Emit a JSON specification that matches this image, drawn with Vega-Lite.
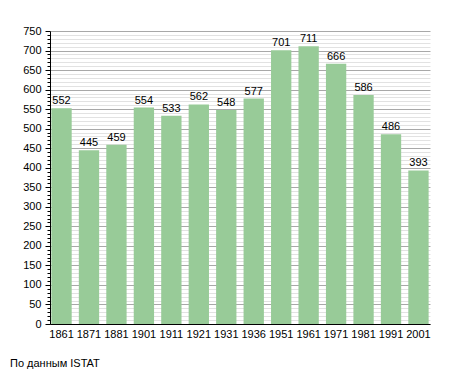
{
  "$schema": "https://vega.github.io/schema/vega-lite/v6.json",
  "autosize": "none",
  "width": 380,
  "height": 293,
  "padding": {"left": 50, "top": 31, "right": 25, "bottom": 49},
  "background": "white",
  "title": {"text": "По данным  ISTAT", "orient": "bottom", "anchor": "start", "frame": "group", "dx": -40, "offset": 19, "font": "Liberation Sans", "fontSize": 11, "fontWeight": "normal", "color": "#000000"},
  "config": {"view": {"stroke": null}, "font": "Liberation Sans"},
  "data": {"values": [
    {"year": "1861", "pop": 552},
    {"year": "1871", "pop": 445},
    {"year": "1881", "pop": 459},
    {"year": "1901", "pop": 554},
    {"year": "1911", "pop": 533},
    {"year": "1921", "pop": 562},
    {"year": "1931", "pop": 548},
    {"year": "1936", "pop": 577},
    {"year": "1951", "pop": 701},
    {"year": "1961", "pop": 711},
    {"year": "1971", "pop": 666},
    {"year": "1981", "pop": 586},
    {"year": "1991", "pop": 486},
    {"year": "2001", "pop": 393}
  ]},
  "encoding": {
    "x": {"field": "year", "type": "nominal", "sort": null,
      "scale": {"paddingInner": 0.26, "paddingOuter": 0.05},
      "axis": {"title": null, "labelAngle": 0, "ticks": false, "labelPadding": 4, "labelFontSize": 11, "labelColor": "#000000", "domainColor": "#000000", "grid": false}},
    "y": {"field": "pop", "type": "quantitative",
      "scale": {"domain": [0, 750], "nice": false},
      "axis": {"title": null,
        "values": [0,10,20,30,40,50,60,70,80,90,100,110,120,130,140,150,160,170,180,190,200,210,220,230,240,250,260,270,280,290,300,310,320,330,340,350,360,370,380,390,400,410,420,430,440,450,460,470,480,490,500,510,520,530,540,550,560,570,580,590,600,610,620,630,640,650,660,670,680,690,700,710,720,730,740,750],
        "labelExpr": "datum.value % 50 === 0 ? datum.label : ''",
        "labelFontSize": 11, "labelColor": "#000000", "labelPadding": 4,
        "domainColor": "#000000",
        "tickColor": "#000000",
        "tickSize": {"condition": {"test": "datum.value % 50 === 0", "value": 5}, "value": 3},
        "grid": true,
        "gridColor": {"condition": {"test": "datum.value % 50 === 0", "value": "#a8a8a8"}, "value": "#e2e2e2"},
        "gridWidth": 1}}
  },
  "layer": [
    {"mark": {"type": "bar", "color": "#98cb98"}},
    {"mark": {"type": "text", "dy": -7, "fontSize": 11, "color": "#000000"},
     "encoding": {"text": {"field": "pop", "type": "quantitative"}}}
  ]
}
